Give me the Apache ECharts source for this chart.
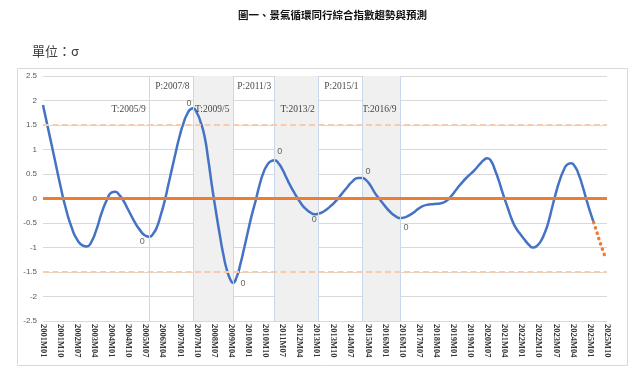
<!DOCTYPE html>
<html>
<head>
<meta charset="utf-8">
<script src="https://cdn.jsdelivr.net/npm/echarts@6.0.0/dist/echarts.min.js"></script>
<style>
html,body{margin:0;padding:0;background:#fff;}
#chart{width:640px;height:373px;}
</style>
</head>
<body>
<div id="chart"></div>
<script>
// ---------- DATA ----------
const titleText = '圖一、景氣循環同行綜合指數趨勢與預測';
const unitText = '單位：σ';

const xTickLabels = ['2001M01','2001M10','2002M07','2003M04','2004M01','2004M10','2005M07','2006M04',
  '2007M01','2007M10','2008M07','2009M04','2010M01','2010M10','2011M07','2012M04','2013M01','2013M10',
  '2014M07','2015M04','2016M01','2016M10','2017M07','2018M04','2019M01','2019M10','2020M07','2021M04',
  '2022M01','2022M10','2023M07','2024M04','2025M01','2025M10'];

const lineMonths = ['2001-01','2001-04','2001-07','2001-10','2002-01','2002-04','2002-07','2002-10','2002-12',
  '2003-02','2003-05','2003-08','2003-11','2004-01','2004-03','2004-05','2004-07','2004-10','2005-01','2005-04',
  '2005-07','2005-09','2005-11','2006-01','2006-03','2006-05','2006-07','2006-09','2006-11','2007-01','2007-03',
  '2007-05','2007-07','2007-08','2007-10','2007-12','2008-02','2008-04','2008-06','2008-08','2008-10','2008-12',
  '2009-02','2009-04','2009-05','2009-07','2009-09','2009-11','2010-01','2010-03','2010-05','2010-07','2010-09',
  '2010-11','2011-01','2011-03','2011-05','2011-07','2011-09','2011-11','2012-01','2012-04','2012-07','2012-10',
  '2012-12','2013-02','2013-05','2013-08','2013-11','2014-02','2014-05','2014-08','2014-11','2015-01','2015-03',
  '2015-05','2015-08','2015-10','2016-01','2016-04','2016-07','2016-09','2016-11','2017-01','2017-04','2017-07',
  '2017-11','2018-03','2018-06','2018-08','2018-10','2018-12','2019-03','2019-06','2019-09','2019-12','2020-03',
  '2020-05','2020-07','2020-09','2020-11','2021-01','2021-03','2021-06','2021-08','2021-10','2021-12','2022-03',
  '2022-05','2022-07','2022-09','2022-11','2023-01','2023-03','2023-05','2023-07','2023-09','2023-11','2024-01',
  '2024-03','2024-05','2024-07','2024-09','2024-11','2025-01','2025-03'];
const lineValues = [1.91,1.37,0.83,0.29,-0.20,-0.58,-0.84,-0.96,-0.98,
  -0.92,-0.65,-0.28,0.00,0.12,0.14,0.08,-0.02,-0.24,-0.46,-0.64,
  -0.76,-0.78,-0.72,-0.58,-0.34,-0.06,0.28,0.62,0.96,1.28,1.54,
  1.73,1.83,1.84,1.75,1.56,1.28,0.80,0.25,-0.25,-0.72,-1.15,
  -1.48,-1.68,-1.72,-1.60,-1.33,-1.00,-0.66,-0.33,-0.04,0.27,0.52,
  0.68,0.76,0.78,0.72,0.60,0.44,0.28,0.14,-0.05,-0.20,-0.29,
  -0.32,-0.31,-0.26,-0.17,-0.06,0.08,0.22,0.35,0.42,0.42,0.38,
  0.29,0.10,0.00,-0.15,-0.28,-0.37,-0.40,-0.39,-0.36,-0.29,-0.20,
  -0.13,-0.11,-0.10,-0.08,-0.03,0.05,0.20,0.34,0.46,0.57,0.70,
  0.78,0.82,0.76,0.58,0.37,0.12,-0.22,-0.44,-0.60,-0.71,-0.86,
  -0.95,-1.00,-0.97,-0.88,-0.72,-0.50,-0.20,0.10,0.36,0.56,0.69,
  0.72,0.66,0.50,0.27,0.00,-0.26,-0.49];

const forecastMonths = ['2025-03','2025-04','2025-05','2025-06','2025-07','2025-08','2025-09'];
const forecastValues = [-0.49,-0.61,-0.73,-0.86,-0.97,-1.08,-1.19];

const turnMonths = ['2005-09','2007-08','2009-05','2011-03','2013-02','2015-01','2016-09'];
const turnTypes  = ['T','P','T','P','T','P','T'];
const turnValues = [-0.78,1.84,-1.72,0.78,-0.31,0.42,-0.40];
const turnPointText = ['0','0','0','0','0','0','0'];

const refLevels = [0, 1.5, -1.5];

// ---------- STYLE ----------
const labelRowY = {P: 2.28, T: 1.82};
const zeroLabelOffsets = [[-7,5],[-4,-5],[10,1],[5,-9],[-4,6],[6,-6],[6,9]];

// ---------- BUILD ----------
function monthIndex(s){ return (parseInt(s.slice(0,4),10)-2001)*12 + parseInt(s.slice(5,7),10)-1; }
function turnLabel(i){ const m = turnMonths[i]; return turnTypes[i]+':'+parseInt(m.slice(0,4),10)+'/'+parseInt(m.slice(5,7),10); }

const lineData = lineMonths.map((m,i)=>[monthIndex(m), lineValues[i]]);
const forecastData = forecastMonths.map((m,i)=>[monthIndex(m), forecastValues[i]]);

const areas = [];
for (let i=0;i<turnMonths.length-1;i++){
  if (turnTypes[i]==='P') areas.push([{xAxis: monthIndex(turnMonths[i])},{xAxis: monthIndex(turnMonths[i+1])}]);
}
const vLines = turnMonths.map(m=>({xAxis: monthIndex(m)}));
const hLines = refLevels.map(v=> v===0
  ? {yAxis:v, lineStyle:{color:'#ED7D31', width:3, type:'solid'}}
  : {yAxis:v, lineStyle:{color:'#F8CBAD', width:2, type:[6,3.5]}});

const chart = echarts.init(document.getElementById('chart'), null, {renderer:'canvas'});
chart.setOption({
  animation:false,
  backgroundColor:'#fff',
  title:[
    {text:titleText, left:233, top:5, textStyle:{fontSize:10.5, fontWeight:'bold', color:'#111', fontFamily:'Noto Sans CJK TC'}},
    {text:unitText, left:27, top:40, textStyle:{fontSize:13, fontWeight:'normal', color:'#404040', fontFamily:'Noto Sans CJK TC'}}
  ],
  graphic:[{type:'rect', shape:{x:17.5,y:68.5,width:610,height:297}, style:{fill:'none', stroke:'#D9D9D9', lineWidth:1}, z:-1}],
  grid:{left:43, right:33, top:76, bottom:52},
  xAxis:{type:'value', min:0, max:297, interval:9,
    axisLine:{show:false}, axisTick:{show:false}, splitLine:{show:false},
    axisLabel:{rotate:-90, margin:3, fontSize:8.5, fontWeight:'bold', fontFamily:'Liberation Serif', color:'#333',
      formatter:v=>xTickLabels[Math.round(v/9)] || ''}},
  yAxis:{type:'value', min:-2.5, max:2.5, interval:0.5,
    axisLine:{show:false}, axisTick:{show:false},
    splitLine:{lineStyle:{color:'#D9D9D9', width:1}},
    axisLabel:{fontSize:8, color:'#595959', fontFamily:'Liberation Sans', margin:6}},
  series:[
    {name:'bands', type:'line', data:[], silent:true, z:1,
      markArea:{silent:true, itemStyle:{color:'#F0F0F0'}, data:areas},
      markLine:{silent:true, symbol:['none','none'], label:{show:false},
        lineStyle:{color:'#C8D8EC', width:1, type:'solid'}, data:vLines}},
    {name:'refs', type:'line', data:[], silent:true, z:2,
      markLine:{silent:true, symbol:['none','none'], label:{show:false}, data:hLines}},
    {name:'同行指數', type:'line', data:lineData, smooth:0.6, showSymbol:false, z:3,
      lineStyle:{color:'#4472C4', width:2.5}},
    {name:'預測', type:'line', data:forecastData, smooth:false, showSymbol:false, z:3,
      lineStyle:{color:'#ED7D31', width:3.5, type:[0.1,5.5], cap:'round'}},
    {name:'zeros', type:'scatter', symbolSize:1, itemStyle:{color:'rgba(0,0,0,0)'}, z:4,
      data: turnMonths.map((m,i)=>({value:[monthIndex(m), turnValues[i]],
        label:{show:true, position:'inside', offset:zeroLabelOffsets[i], formatter:turnPointText[i],
          fontSize:9, color:'#404040', fontFamily:'Liberation Sans'}}))},
    {name:'turns', type:'scatter', symbolSize:1, itemStyle:{color:'rgba(0,0,0,0)'}, z:4,
      data: turnMonths.map((m,i)=>({value:[monthIndex(m), labelRowY[turnTypes[i]]], name:turnLabel(i)})),
      label:{show:true, position:'left', distance:3, formatter:p=>p.name,
        fontSize:9.5, color:'#111', fontFamily:'Liberation Serif'}}
  ]
});
</script>
</body>
</html>
